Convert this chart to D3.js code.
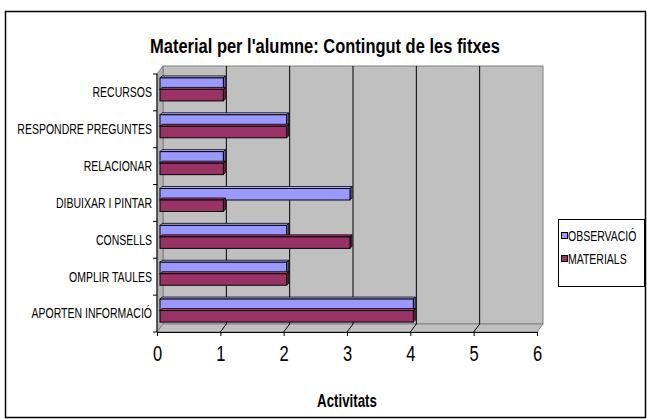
<!DOCTYPE html>
<html>
<head>
<meta charset="utf-8">
<script src="https://cdn.jsdelivr.net/npm/d3@7"></script>
<style>
  body { margin: 0; background: #fff; }
  text { font-family: "Liberation Sans", Arial, sans-serif; }
</style>
</head>
<body>
<div id="chart-area"></div>
<script>
// data
var categories = ["RECURSOS", "RESPONDRE PREGUNTES", "RELACIONAR", "DIBUIXAR I PINTAR",
                  "CONSELLS", "OMPLIR TAULES", "APORTEN INFORMACIÓ"];
var series = ["OBSERVACIÓ", "MATERIALS"];
var observacio = [1, 2, 1, 3, 2, 2, 4];
var materials  = [1, 2, 1, 1, 3, 2, 4];
var xTicks = [0, 1, 2, 3, 4, 5, 6];
var colors = ["#9999FF", "#993366"];
var values = [observacio, materials];

var W = 647, H = 419;
var depth = {x: 6, y: -8};

// squeeze text horizontally around its anchor (the original uses a narrow font)
function condense(sel, k){
    sel.each(function(){
        var t = d3.select(this);
        var tx = +t.attr("x") || 0, ty = +t.attr("y") || 0;
        t.attr("transform", "translate(" + tx + "," + ty + ") scale(" + k + ",1) translate(" + (-tx) + "," + (-ty) + ")");
    });
}

var svg = d3.select("#chart-area").append("svg")
    .attr("width", W).attr("height", H);

// outer border
svg.append("rect")
    .attr("x", 5.5).attr("y", 11.5)
    .attr("width", 640).attr("height", 406)
    .attr("fill", "#fff").attr("stroke", "#000").attr("stroke-width", 1.5);

// title
svg.append("text")
    .attr("x", 325).attr("y", 53)
    .attr("text-anchor", "middle")
    .attr("font-size", "21px").attr("font-weight", "bold")
    .text("Material per l'alumne: Contingut de les fitxes")
    .call(condense, 0.785);

// scales (front plane)
var x = d3.scaleLinear().domain([0, 6]).range([157, 537]);
var y = d3.scaleBand().domain(categories).range([74, 332]);
var yIn = d3.scaleBand().domain(series).range([0, 23]);

var pLeft = x(0), pRight = x(6), pTop = y.range()[0], pBottom = y.range()[1];

// back wall
svg.append("rect")
    .attr("x", pLeft + depth.x).attr("y", pTop + depth.y)
    .attr("width", pRight - pLeft).attr("height", pBottom - pTop)
    .attr("fill", "#C0C0C0").attr("stroke", "#808080");

// side wall
svg.append("path")
    .attr("d", "M" + pLeft + "," + pTop + "L" + (pLeft + depth.x) + "," + (pTop + depth.y) +
               "L" + (pLeft + depth.x) + "," + (pBottom + depth.y) + "L" + pLeft + "," + pBottom + "Z")
    .attr("fill", "#B4B4B4").attr("stroke", "#808080");

// floor
svg.append("path")
    .attr("d", "M" + pLeft + "," + pBottom + "L" + (pLeft + depth.x) + "," + (pBottom + depth.y) +
               "L" + (pRight + depth.x) + "," + (pBottom + depth.y) + "L" + pRight + "," + pBottom + "Z")
    .attr("fill", "#C0C0C0").attr("stroke", "#808080");

// gridlines on wall and floor
var grid = svg.append("g");
grid.selectAll(".gw").data(xTicks.slice(1, -1)).enter().append("line")
    .attr("x1", function(d){ return x(d) + depth.x; })
    .attr("x2", function(d){ return x(d) + depth.x; })
    .attr("y1", pTop + depth.y).attr("y2", pBottom + depth.y)
    .attr("stroke", "#000");
grid.selectAll(".gf").data(xTicks.slice(1, -1)).enter().append("line")
    .attr("x1", function(d){ return x(d); })
    .attr("x2", function(d){ return x(d) + depth.x; })
    .attr("y1", pBottom).attr("y2", pBottom + depth.y)
    .attr("stroke", "#000");

// bars
var shiftX = depth.x / 2, shiftY = -3, bd = 2;
categories.forEach(function(cat, i){
    series.forEach(function(s, j){
        var v = values[j][i];
        var x0 = x(0) + shiftX, x1 = x(v) + shiftX;
        var y0 = y(cat) + (y.bandwidth() - 23) / 2 + shiftY + yIn(s);
        var h = yIn.bandwidth();
        var c = d3.color(colors[j]);
        // top face
        svg.append("path")
            .attr("d", "M" + x0 + "," + y0 + "L" + (x0 + bd) + "," + (y0 - bd) +
                       "L" + (x1 + bd) + "," + (y0 - bd) + "L" + x1 + "," + y0 + "Z")
            .attr("fill", c.brighter(0.4)).attr("stroke", "#000").attr("stroke-width", 0.8);
        // end face
        svg.append("path")
            .attr("d", "M" + x1 + "," + y0 + "L" + (x1 + bd) + "," + (y0 - bd) +
                       "L" + (x1 + bd) + "," + (y0 + h - bd) + "L" + x1 + "," + (y0 + h) + "Z")
            .attr("fill", c.darker(0.8)).attr("stroke", "#000").attr("stroke-width", 0.8);
        // front face
        svg.append("rect")
            .attr("x", x0).attr("y", y0)
            .attr("width", x1 - x0).attr("height", h)
            .attr("fill", colors[j]).attr("stroke", "#000").attr("stroke-width", 1);
    });
});

// left axis
svg.append("line")
    .attr("x1", pLeft).attr("x2", pLeft).attr("y1", pTop).attr("y2", pBottom)
    .attr("stroke", "#000");
svg.selectAll(".ytick").data(d3.range(categories.length + 1)).enter().append("line")
    .attr("x1", pLeft - 4).attr("x2", pLeft)
    .attr("y1", function(d){ return pTop + d * y.step(); })
    .attr("y2", function(d){ return pTop + d * y.step(); })
    .attr("stroke", "#000");

var yAxis = svg.append("g")
    .attr("transform", "translate(" + pLeft + ",0)")
    .call(d3.axisLeft(y).tickSize(0).tickPadding(5));
yAxis.select(".domain").remove();
yAxis.selectAll("text")
    .attr("font-family", null)
    .attr("font-size", "15px")
    .attr("fill", "#000")
    .call(condense, 0.7);

// bottom axis
var xAxis = svg.append("g")
    .attr("transform", "translate(0," + pBottom + ")")
    .call(d3.axisBottom(x).tickValues(xTicks).tickFormat(d3.format("d"))
          .tickSize(4).tickSizeOuter(0).tickPadding(9));
xAxis.select(".domain").attr("stroke", "#000");
xAxis.selectAll("line").attr("stroke", "#000");
xAxis.selectAll("text")
    .attr("font-family", null)
    .attr("font-size", "22px")
    .attr("fill", "#000")
    .call(condense, 0.75);

// x title
svg.append("text")
    .attr("x", (pLeft + pRight) / 2).attr("y", 407)
    .attr("text-anchor", "middle")
    .attr("font-size", "19px").attr("font-weight", "bold")
    .text("Activitats")
    .call(condense, 0.7);

// legend
var legend = svg.append("g").attr("transform", "translate(558,219)");
legend.append("rect")
    .attr("x", 0.5).attr("y", 0.5).attr("width", 86).attr("height", 67)
    .attr("fill", "#fff").attr("stroke", "#000");
series.forEach(function(s, i){
    var row = legend.append("g").attr("transform", "translate(0," + (i * 23) + ")");
    row.append("rect")
        .attr("x", 3.5).attr("y", 13.5).attr("width", 6).attr("height", 6)
        .attr("fill", colors[i]).attr("stroke", "#000");
    row.append("text")
        .attr("x", 10).attr("y", 22)
        .attr("font-size", "14px")
        .text(s)
        .call(condense, 0.75);
});
</script>
</body>
</html>
